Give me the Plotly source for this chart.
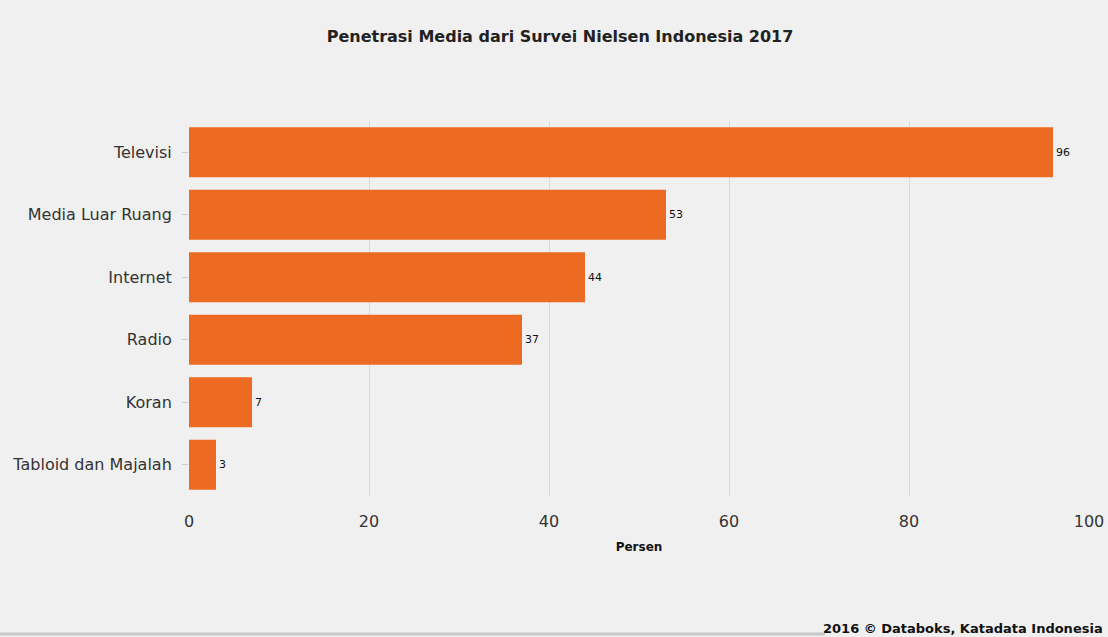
import plotly.graph_objects as go

categories = ["Televisi", "Media Luar Ruang", "Internet", "Radio", "Koran", "Tabloid dan Majalah"]
values = [96, 53, 44, 37, 7, 3]
x_ticks = [0, 20, 40, 60, 80, 100]

bg = "#f0f0f0"
bar_color = "#ec6a22"

fig = go.Figure(go.Bar(
    x=values,
    y=categories,
    orientation="h",
    marker=dict(color=bar_color, line=dict(width=0)),
    text=[str(v) for v in values],
    textposition="outside",
    textfont=dict(family="DejaVu Sans", size=11, color="#111111"),
    cliponaxis=False,
    width=0.8,
))

fig.update_layout(
    width=1108, height=637,
    margin=dict(l=189, r=19, t=121, b=141, autoexpand=False),
    paper_bgcolor=bg, plot_bgcolor=bg,
    showlegend=False,
    title=dict(
        text="<b>Penetrasi Media dari Survei Nielsen Indonesia 2017</b>",
        font=dict(family="DejaVu Sans", size=16, color="#222222"),
        x=560 / 1108, xref="container", xanchor="center",
        y=1 - 36 / 637, yanchor="middle",
    ),
    font=dict(family="DejaVu Sans", color="#333333"),
)

fig.update_xaxes(
    range=[0, 100],
    tickvals=x_ticks,
    tickfont=dict(size=16, color="#333333"),
    showgrid=True, gridcolor="#d9d9d9", gridwidth=1,
    zeroline=False, showline=False,
    ticks="", ticklabelstandoff=14,
    automargin=False,
    title=dict(text="<b>Persen</b>", font=dict(size=12, color="#111111"), standoff=12),
)

fig.update_yaxes(
    categoryorder="array",
    categoryarray=categories[::-1],
    tickfont=dict(size=16, color="#333333"),
    ticks="outside", ticklen=6, tickcolor="#cccccc",
    ticklabelstandoff=7,
    automargin=False,
    showgrid=False, zeroline=False, showline=False,
)

fig.add_annotation(
    text="<b>2016 © Databoks, Katadata Indonesia</b>",
    xref="paper", yref="paper",
    x=(1105 - 189) / 900, y=(496 - 628) / 375,
    xanchor="right", yanchor="middle",
    showarrow=False,
    font=dict(family="DejaVu Sans", size=13, color="#111111"),
)

fig.add_shape(
    type="line", xref="paper", yref="paper",
    x0=-189 / 900, x1=(825 - 189) / 900,
    y0=(496 - 634) / 375, y1=(496 - 634) / 375,
    line=dict(color="#c8c8c8", width=3),
)

fig.write_html("out.html")
